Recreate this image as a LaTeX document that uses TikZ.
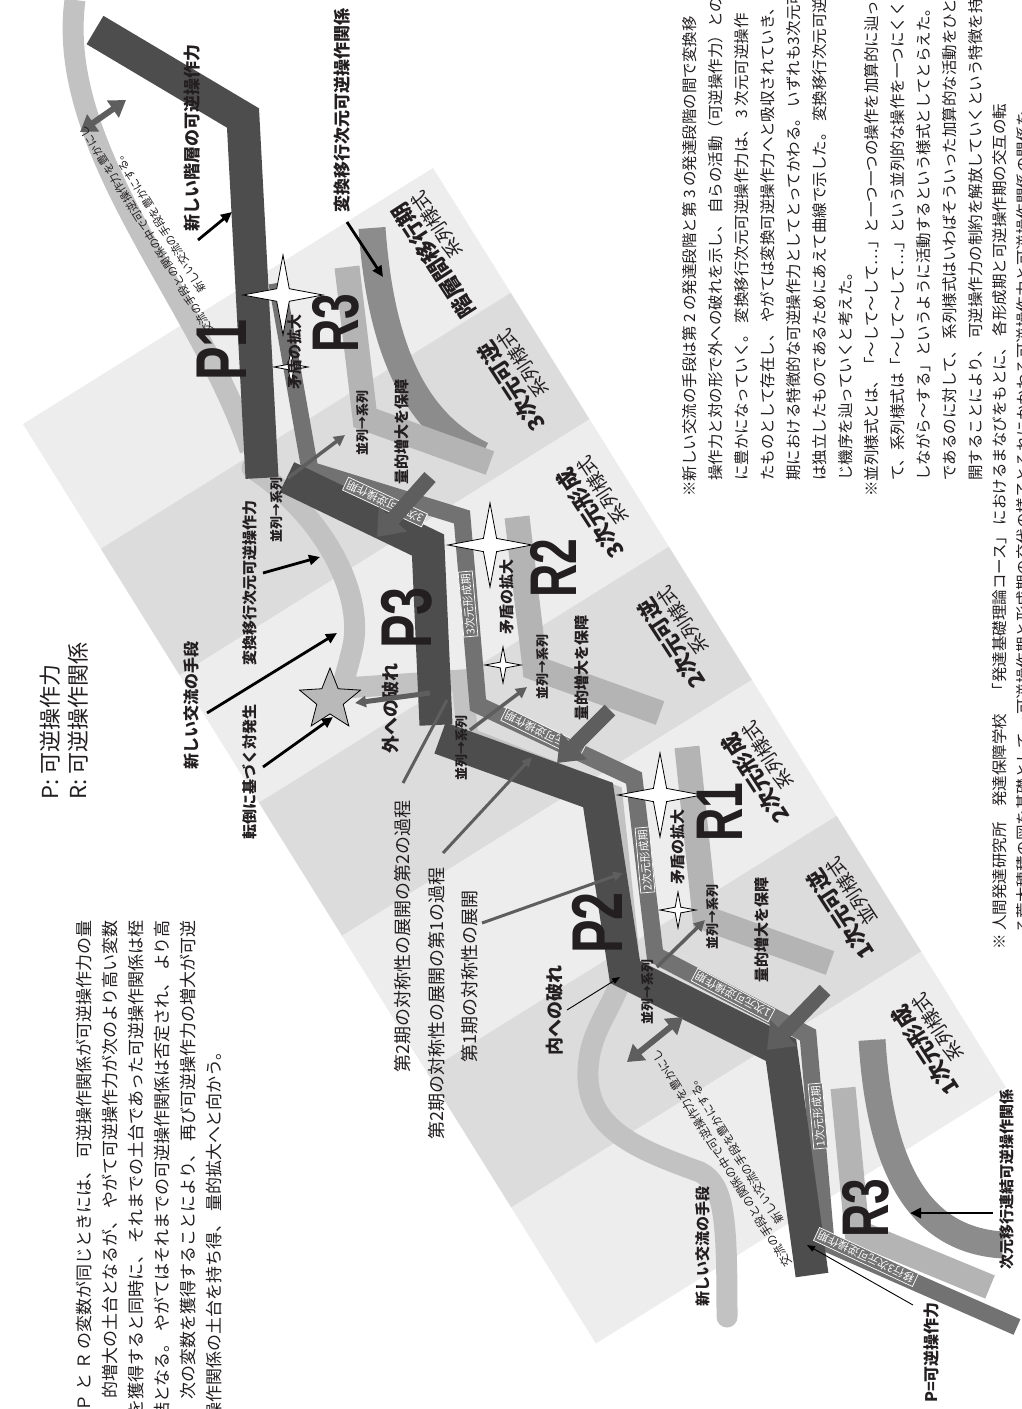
\documentclass[tikz,border=0pt]{standalone}
\usepackage{fontspec}
\setmainfont{Noto Sans CJK JP}
\newfontfamily\bigf[FakeStretch=0.7]{Liberation Sans}
\usetikzlibrary{arrows.meta,shapes.geometric}
\newcommand{\myfs}[1]{\fontsize{#1}{#1}\selectfont}
\definecolor{bandA}{HTML}{EDEDED}
\definecolor{bandB}{HTML}{DCDCDC}
\definecolor{pdark}{HTML}{4D4D4D}
\definecolor{mbar}{HTML}{727272}
\definecolor{rlight}{HTML}{B4B4B4}
\definecolor{curveg}{HTML}{8C8C8C}
\definecolor{exch}{HTML}{C2C2C2}
\definecolor{txtc}{HTML}{231F20}
\definecolor{arrg}{HTML}{5E5E5E}
\begin{document}
\begin{tikzpicture}[x=1pt,y=-1pt,
  vt/.style={rotate=90,inner sep=0pt,text=txtc},
  note/.style={vt,anchor=west,font=\myfs{15.5}},
  para/.style={vt,anchor=east,font=\myfs{17}},
  bl/.style={vt,font=\myfs{#1}\bfseries},
  rg/.style={vt,font=\myfs{#1}},
  bigl/.style={vt,font=\bigf\myfs{#1}\bfseries},
  bandl/.style={rotate=123,inner sep=0pt,align=right,text=txtc},
  barbox/.style={fill=mbar,draw=white,line width=0.7pt,text=white,font=\myfs{11},inner sep=2pt},
  slant/.style={rotate=122,inner sep=0pt,align=center,font=\myfs{11.5},text=txtc},
  pbar/.style={draw=pdark,line width=33pt,line join=miter},
  mb/.style={draw=mbar,line width=17pt,line join=miter},
  rb/.style={draw=rlight,line width=25pt,line join=miter},
  cv/.style={draw=curveg,line width=27pt},
  ex/.style={draw=exch,line width=21pt},
  star4/.style={star,star points=4,star point ratio=4.5,draw=black,fill=white,line width=0.8pt,inner sep=0pt,minimum size=#1},
  bigarr/.style={draw=arrg,line width=15pt,-{Triangle[length=24pt,width=36pt]}},
  thinarr/.style={draw=arrg,line width=3.5pt,-{Triangle[length=11pt,width=11pt]}},
  blkarr/.style={draw=black,line width=2.8pt,-{Triangle[length=11pt,width=10pt]}},
  hairarr/.style={draw=black,line width=0.9pt,-{Triangle[length=8pt,width=6pt]}},
  gline/.style={draw=arrg,line width=3pt},
  dblarr/.style={draw=arrg,line width=6pt,{Triangle[length=16pt,width=20pt]}-{Triangle[length=16pt,width=20pt]}},
]
\useasboundingbox (0,0) rectangle (1021,1409);
\clip (0,0) rectangle (1021,1409);
\fill[white] (0,0) rectangle (1021,1409);
% ---- background strip ----
\fill[bandA] (433,168) -- (510.8,292.8) -- (100.8,548.8) -- (23,424) -- cycle;
\fill[bandB] (510.8,292.8) -- (589.6,419.3) -- (179.6,675.3) -- (100.8,548.8) -- cycle;
\fill[bandA] (589.6,419.3) -- (668.9,546.7) -- (258.9,802.7) -- (179.6,675.3) -- cycle;
\fill[bandB] (668.9,546.7) -- (752,679.9) -- (342,935.9) -- (258.9,802.7) -- cycle;
\fill[bandA] (752,679.9) -- (836.6,815.8) -- (426.6,1071.8) -- (342,935.9) -- cycle;
\fill[bandB] (836.6,815.8) -- (921.3,951.6) -- (511.3,1207.6) -- (426.6,1071.8) -- cycle;
\fill[bandA] (921.3,951.6) -- (1005.9,1087.5) -- (595.9,1343.5) -- (511.3,1207.6) -- cycle;
% ---- exchange curves (light) ----
\draw[ex] (75,0) .. controls (55,150) and (200,300) .. (250,450);
\draw[ex,line cap=round] (252,468) .. controls (330,520) and (365,600) .. (352,650)
   .. controls (345,680) and (340,688) .. (345,688) -- (462,680) -- (468,738) -- (612,795) -- (628,945)
   .. controls (625,1000) and (590,1020) .. (588,1070)
   .. controls (585,1130) and (640,1150) .. (700,1172)
   .. controls (725,1185) and (727,1220) .. (727,1317);
% ---- medium curves ----
\draw[cv] (372,228) .. controls (380,340) and (410,420) .. (482,455);
\draw[cv] (872,1040) .. controls (880,1170) and (920,1240) .. (1003,1245);
% ---- R bars (light) ----
\draw[rb] (347,267) -- (365,418) -- (490,463);
\draw[rb] (517,517) -- (535,668) -- (660,713);
\draw[rb] (687,747) -- (705,918) -- (830,963);
\draw[rb] (843,1088) -- (857,1232) -- (990,1287);
% ---- period bar (medium) ----
\draw[mb] (1017,1327) -- (826,1243) -- (808,1035) -- (655,955) -- (634,778) -- (478,705) -- (462,517) -- (310,470) -- (277,283);
% ---- P bars (dark) ----
\draw[pbar] (812,1275) -- (781,1050) -- (625,972) -- (598,795) -- (440,738);
\draw[pbar] (436,725) -- (428,545) -- (287,477);
\draw[pbar] (262,478) -- (243,118) -- (95,30);
% ---- period labels ----
\node[barbox,rotate=95] (b1f) at (818,1116) {1次元形成期};
\node[barbox,rotate=152] (b1r) at (733,995) {1次元可逆操作期};
\node[barbox,rotate=95] (b2f) at (645,860) {2次元形成期};
\node[barbox,rotate=154] (b2r) at (543,733) {2次元可逆操作期};
\node[barbox,rotate=95] (b3f) at (468,604) {3次元形成期};
\node[barbox,rotate=155] (b3r) at (385,502) {3次元可逆操作期};
\node[barbox,rotate=155] (b0) at (866,1257) {移行3次元可逆操作期};
% ---- stars ----
\node[star4=80pt] (st1) at (283,295) {};
\node[star4=34pt] (st2) at (291,367) {};
\node[star4=84pt] (st3) at (490,545) {};
\node[star4=36pt] (st4) at (503,665) {};
\node[star4=84pt] (st5) at (660,795) {};
\node[star4=36pt] (st6) at (678,910) {};
\node[star,star points=5,star point ratio=2.3,draw=black,fill=gray!55,minimum size=64pt,inner sep=0pt,line width=0.8pt] (st7) at (330,700) {};
% ---- big letters ----
\node[bigl=72] (P1) at (222,350) {P1};
\node[bigl=72] (P2) at (597,923) {P2};
\node[bigl=72] (P3) at (407,618) {P3};
\node[bigl=66] (R1) at (720,812) {R1};
\node[bigl=66] (R2) at (553,568) {R2};
\node[bigl=66] (R3a) at (336,323) {R3};
\node[bigl=66] (R3b) at (866,1208) {R3};
% ---- band labels ----
\node[bandl] (bd7) at (442,255) {\myfs{22}\bfseries 階層間移行期\\[2pt]\myfs{19}系列様式};
\node[bandl] (bd6) at (520,381) {\myfs{22}\bfseries 3次元可逆\\[2pt]\myfs{19}系列様式};
\node[bandl] (bd5) at (599,508) {\myfs{22}\bfseries 3次元形成\\[2pt]\myfs{19}系列様式};
\node[bandl] (bd4) at (680,638) {\myfs{22}\bfseries 2次元可逆\\[2pt]\myfs{19}系列様式};
\node[bandl] (bd3) at (764,773) {\myfs{22}\bfseries 2次元形成\\[2pt]\myfs{19}系列様式};
\node[bandl] (bd2) at (849,909) {\myfs{22}\bfseries 1次元可逆\\[2pt]\myfs{19}並列様式};
\node[bandl] (bd1) at (934,1045) {\myfs{22}\bfseries 1次元形成\\[2pt]\myfs{19}系列様式};
% ---- contradiction / sequence labels ----
\node[bl=15] (m1) at (295,352) {矛盾の拡大};
\node[bl=15] (m2) at (507,597) {矛盾の拡大};
\node[bl=15] (m3) at (678,847) {矛盾の拡大};
\node[bl=13] (h1) at (363,423) {並列→系列};
\node[bl=13] (h2) at (277,510) {並列→系列};
\node[bl=13] (h3) at (543,667) {並列→系列};
\node[bl=13] (h4) at (462,748) {並列→系列};
\node[bl=13] (h5) at (648,992) {並列→系列};
\node[bl=13] (h6) at (713,917) {並列→系列};
\node[bl=15] (q1) at (402,432) {量的増大を保障};
\node[bl=15] (q2) at (582,668) {量的増大を保障};
\node[bl=15] (q3) at (762,930) {量的増大を保障};
% thick arrows
\coordinate (qa1) at (430,477); \coordinate (qb1) at (377,537);
\coordinate (qa2) at (610,710); \coordinate (qb2) at (557,763);
\coordinate (qa3) at (825,990); \coordinate (qb3) at (767,1050);
\draw[bigarr] (qa1) -- (qb1);
\draw[bigarr] (qa2) -- (qb2);
\draw[bigarr] (qa3) -- (qb3);
% thin arrows
\coordinate (ha1) at (288,478); \coordinate (hb1) at (345,435);
\coordinate (ha2) at (470,730); \coordinate (hb2) at (527,687);
\coordinate (ha3) at (657,967); \coordinate (hb3) at (705,920);
\draw[thinarr] (ha1) -- (hb1);
\draw[thinarr] (ha2) -- (hb2);
\draw[thinarr] (ha3) -- (hb3);
% ---- other labels ----
\node[bl=17,anchor=west] (t1) at (342,213) {変換移行次元可逆操作関係};
\coordinate (t1a) at (347,222); \coordinate (t1b) at (383,277);
\draw[blkarr] (t1a) -- (t1b);
\node[bl=17,anchor=west] (t2) at (192,232) {新しい階層の可逆操作力};
\coordinate (t2a) at (198,240); \coordinate (t2b) at (232,212);
\draw[blkarr] (t2a) -- (t2b);
\node[bl=15] (t3) at (250,583) {変換移行次元可逆操作力};
\coordinate (t3a) at (263,573); \coordinate (t3b) at (320,557);
\draw[blkarr] (t3a) -- (t3b);
\node[bl=16,anchor=west] (t4) at (191,770) {新しい交流の手段};
\coordinate (t4a) at (207,713); \coordinate (t4b) at (337,633);
\draw[blkarr] (t4a) -- (t4b);
\node[bl=15,anchor=west] (t5) at (250,840) {転倒に基づく対発生};
\coordinate (t5a) at (263,767); \coordinate (t5b) at (333,717);
\draw[blkarr] (t5a) -- (t5b);
\node[bl=18] (t6) at (391,708) {外への破れ};
\coordinate (t6a) at (430,693); \coordinate (t6b) at (355,703);
\draw[thinarr,line width=5pt] (t6a) -- (t6b);
\node[bl=18] (t7) at (555,1010) {内への破れ};
\coordinate (t7a) at (567,1010); \coordinate (t7b) at (620,977);
\draw[hairarr] (t7a) -- (t7b);
\node[rg=18,anchor=west] (t8) at (403,1073) {第2期の対称性の展開の第2の過程};
\coordinate (t8a) at (403,783); \coordinate (t8b) at (447,700);
\draw[gline] (t8a) -- (t8b);
\node[rg=18,anchor=west] (t9) at (437,1140) {第2期の対称性の展開の第1の過程};
\coordinate (t9a) at (443,853); \coordinate (t9b) at (532,757);
\draw[gline,-{Triangle[length=10pt,width=9pt]}] (t9a) -- (t9b);
\node[rg=18,anchor=west] (t10) at (470,1063) {第1期の対称性の展開};
\coordinate (t10a) at (482,923); \coordinate (t10b) at (623,873);
\draw[gline,-{Triangle[length=10pt,width=9pt]}] (t10a) -- (t10b);
\node[bl=15,anchor=west] (t11) at (703,1307) {新しい交流の手段};
\node[bl=16,anchor=west] (t12) at (931,1403) {P=可逆操作力};
\coordinate (t12a) at (913,1305); \coordinate (t12b) at (807,1245);
\draw[hairarr] (t12a) -- (t12b);
\node[bl=15,anchor=west] (t13) at (1007,1270) {次元移行連結可逆操作関係};
\coordinate (t13a) at (993,1213); \coordinate (t13b) at (910,1213);
\draw[blkarr] (t13a) -- (t13b);
% double arrows
\coordinate (da1) at (627,1062); \coordinate (db1) at (683,1017);
\draw[dblarr] (da1) -- (db1);
\coordinate (da2) at (80,132); \coordinate (db2) at (126,100);
\draw[dblarr] (da2) -- (db2);
% slanted exchange texts
\node[slant] (x1) at (728,1154) {交流の手段との関係の中で可逆操作力を豊かにし\\[4pt]新しい交流の手段を豊かにする。};
\node[slant,font=\myfs{11}] (x2) at (153,226) {交流の手段との関係の中で可逆操作力を豊かにし\\[4pt]新しい交流の手段を豊かにする。};
% ---- legend ----
\node[rg=22,anchor=west] (lg1) at (50,800) {P: 可逆操作力};
\node[rg=22,anchor=west] (lg2) at (78,800) {R: 可逆操作関係};
% ---- paragraph ----
\node[para] (pa1) at (84,920) {Ｐ と Ｒ の変数が同じときには、 可逆操作関係が可逆操作力の量};
\node[para] (pa2) at (110,920) {的増大の土台となるが、 やがて可逆操作力が次のより高い変数};
\node[para] (pa3) at (136,920) {を獲得すると同時に、 それまでの土台であった可逆操作関係は桎};
\node[para] (pa4) at (162,920) {梏となる。 やがてはそれまでの可逆操作関係は否定され、 より高};
\node[para] (pa5) at (188,920) {次の変数を獲得することにより、 再び可逆操作力の増大が可逆};
\node[para] (pa6) at (214,1043) {操作関係の土台を持ち得、 量的拡大へと向かう。};
% ---- notes ----
\node[note] (n1) at (690,497) {※新しい交流の手段は第 2 の発達段階と第 3 の発達段階の間で変換移};
\node[note] (n2) at (716,481) {操作力と対の形で外への破れを示し、 自らの活動（可逆操作力）との};
\node[note] (n3) at (742,481) {に豊かになっていく。 変換移行次元可逆操作力は、 3 次元可逆操作};
\node[note] (n4) at (768,481) {たものとして存在し、 やがては変換可逆操作力へと吸収されていき、 変};
\node[note] (n5) at (794,481) {期における特徴的な可逆操作力としてとってかわる。 いずれも3次元可};
\node[note] (n6) at (820,481) {は独立したものであるためにあえて曲線で示した。 変換移行次元可逆操};
\node[note] (n7) at (846,481) {じ機序を辿っていくと考えた。};
\node[note] (n8) at (872,497) {※並列様式とは、「〜して〜して…」と一つ一つの操作を加算的に辿って};
\node[note] (n9) at (898,481) {て、系列様式は「〜して〜して…」という並列的な操作を一つにくくって};
\node[note] (n10) at (924,481) {しながら〜する」というように活動するという様式としてとらえた。 並列様};
\node[note] (n11) at (950,481) {であるのに対して、 系列様式はいわばそういった加算的な活動をひとまと};
\node[note] (n12) at (976,481) {開することにより、 可逆操作力の制約を解放していくという特徴を持つ。};
\node[note] (n13) at (1000,950) {※ 人間発達研究所　発達保障学校　「発達基礎理論コース」 におけるまなびをもとに、 各形成期と可逆操作期の交互の転};
\node[note] (n14) at (1024,934) {る荒木穂積の図を基礎として、 可逆操作期と形成期の交代の様子とそれにかかわる可逆操作力と可逆操作関係の関係を};
\end{tikzpicture}
\end{document}
